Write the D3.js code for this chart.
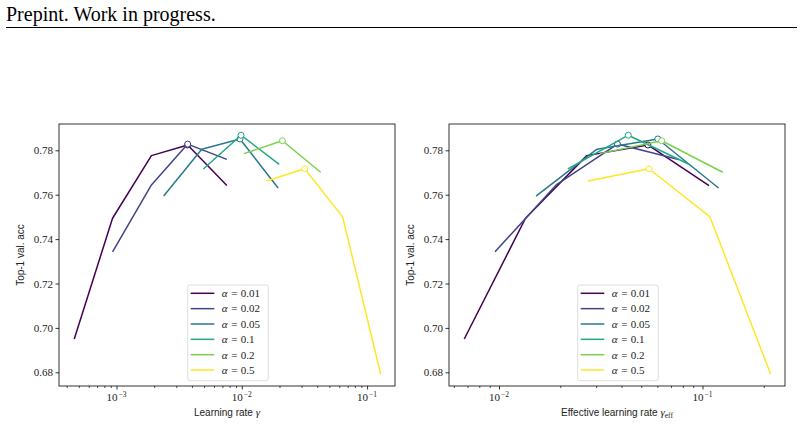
<!DOCTYPE html>
<html>
<head>
<meta charset="utf-8">
<script src="https://cdn.jsdelivr.net/npm/d3@7"></script>
<style>
  html, body { margin: 0; padding: 0; background: #fff; }
  svg { display: block; }
</style>
</head>
<body>
<div id="chart"></div>
<script>
// ---------------- DATA ----------------
const alphaLabels = ["0.01", "0.02", "0.05", "0.1", "0.2", "0.5"];

// learning rate gamma
const lrA001 = [0.00046, 0.00093, 0.0019, 0.0037, 0.0076];
const lrA002 = [0.00093, 0.0019, 0.0037, 0.0076];
const lrA005 = [0.00238, 0.00479, 0.00968, 0.0195];
const lrA01  = [0.00493, 0.00986, 0.0199];
const lrA02  = [0.0104, 0.0211, 0.0426];
const lrA05  = [0.0157, 0.0318, 0.0638, 0.1285];

// effective learning rate gamma_eff
const effA001 = [0.00675, 0.0135, 0.0270, 0.0539, 0.1077];
const effA002 = [0.00956, 0.0191, 0.0382, 0.0763];
const effA005 = [0.0152, 0.0303, 0.0603, 0.1199];
const effA01  = [0.0218, 0.0432, 0.0858];
const effA02  = [0.0313, 0.0630, 0.1257];
const effA05  = [0.0273, 0.0546, 0.1088, 0.2163];

// top-1 validation accuracy
const accA001 = [0.6950, 0.7494, 0.7776, 0.7824, 0.7641];
const accA002 = [0.7343, 0.7644, 0.7828, 0.7759];
const accA005 = [0.7594, 0.7805, 0.7851, 0.7630];
const accA01  = [0.7716, 0.7868, 0.7737];
const accA02  = [0.7785, 0.7843, 0.7701];
const accA05  = [0.7662, 0.7717, 0.7500, 0.6791];

const yTicks = [0.68, 0.70, 0.72, 0.74, 0.76, 0.78];
const leftMajor = [1e-3, 1e-2, 1e-1];
const leftMajorLabels = ["\u22123", "\u22122", "\u22121"];
const rightMajor = [1e-2, 1e-1];
const rightMajorLabels = ["\u22122", "\u22121"];

// ---------------- STYLE ----------------
const colors = ["#440154", "#414487", "#2a788e", "#22a884", "#7ad151", "#fde725"];

const lrSeries  = [lrA001, lrA002, lrA005, lrA01, lrA02, lrA05];
const effSeries = [effA001, effA002, effA005, effA01, effA02, effA05];
const accSeries = [accA001, accA002, accA005, accA01, accA02, accA05];

const W = 804, H = 425;
const svg = d3.select("#chart").append("svg")
  .attr("width", W).attr("height", H)
  .style("font-family", "'Liberation Serif', serif");

svg.append("rect").attr("width", W).attr("height", H).attr("fill", "#fff");

// header
svg.append("text")
  .attr("x", 6).attr("y", 20.5)
  .style("font-family", "'Liberation Serif', 'Times New Roman', serif")
  .style("font-size", "20px")
  .attr("fill", "#000")
  .text("Prepint. Work in progress.");
svg.append("line")
  .attr("x1", 6).attr("x2", 797).attr("y1", 27.5).attr("y2", 27.5)
  .attr("stroke", "#000").attr("stroke-width", 1);

const axTop = 124, axBottom = 386;
const y = d3.scaleLinear().domain([0.68, 0.78]).range([372.3, 150.3]);

function drawPanel(opts) {
  const { x0, x1, xDomain, xSeries, major, majorLabels, xLabelParts, yLabelX } = opts;
  const x = d3.scaleLog().domain(xDomain).range([x0, x1]);
  const g = svg.append("g");

  // minor ticks
  const lo = Math.floor(Math.log10(xDomain[0])), hi = Math.ceil(Math.log10(xDomain[1]));
  const minor = [];
  for (let e = lo; e <= hi; e++) {
    for (let m = 2; m <= 9; m++) {
      const v = m * Math.pow(10, e);
      if (v >= xDomain[0] && v <= xDomain[1]) minor.push(v);
    }
  }
  const xAxisMinor = d3.axisBottom(x).tickValues(minor).tickSize(2).tickFormat("");
  const xAxisMajor = d3.axisBottom(x).tickValues(major).tickSize(3.5).tickFormat("");
  const gm = g.append("g").attr("transform", `translate(0,${axBottom})`).call(xAxisMinor);
  const gM = g.append("g").attr("transform", `translate(0,${axBottom})`).call(xAxisMajor);
  [gm, gM].forEach(a => {
    a.select(".domain").remove();
    a.selectAll("line").attr("stroke", "#000").attr("stroke-width", 0.7);
  });
  gM.selectAll("line").attr("stroke-width", 0.8);

  // major tick labels 10^{-n}
  major.forEach((v, i) => {
    const t = g.append("text")
      .attr("x", x(v)).attr("y", 401)
      .attr("text-anchor", "middle")
      .style("font-size", "11px").attr("fill", "#222");
    t.append("tspan").text("10");
    t.append("tspan").attr("dx", 1).attr("dy", -4.5).style("font-size", "7.5px").text(majorLabels[i]);
  });

  // y axis
  const yAxis = d3.axisLeft(y).tickValues(yTicks).tickSize(3.5).tickFormat(d3.format(".2f"));
  const gy = g.append("g").attr("transform", `translate(${x0},0)`).call(yAxis);
  gy.select(".domain").remove();
  gy.selectAll("line").attr("stroke", "#000").attr("stroke-width", 0.8);
  gy.selectAll("text")
    .style("font-family", "'Liberation Serif', serif")
    .style("font-size", "11px").attr("fill", "#222").attr("x", -6);

  // clip
  const clipId = "clip" + x0;
  svg.append("clipPath").attr("id", clipId).append("rect")
    .attr("x", x0).attr("y", axTop).attr("width", x1 - x0).attr("height", axBottom - axTop);
  const plot = g.append("g").attr("clip-path", `url(#${clipId})`);

  const line = d3.line().x(d => x(d[0])).y(d => y(d[1]));
  xSeries.forEach((xs, si) => {
    const pts = xs.map((v, i) => [v, accSeries[si][i]]);
    plot.append("path").attr("d", line(pts))
      .attr("fill", "none").attr("stroke", colors[si])
      .attr("stroke-width", 1.5).attr("stroke-linejoin", "round");
    const best = pts.reduce((a, b) => (b[1] > a[1] ? b : a));
    plot.append("circle").attr("cx", x(best[0])).attr("cy", y(best[1])).attr("r", 3)
      .attr("fill", "#fff").attr("stroke", colors[si]).attr("stroke-width", 1);
  });

  // frame
  g.append("rect").attr("x", x0).attr("y", axTop).attr("width", x1 - x0).attr("height", axBottom - axTop)
    .attr("fill", "none").attr("stroke", "#000").attr("stroke-width", 0.8);

  // axis labels
  const xl = g.append("text").attr("x", (x0 + x1) / 2).attr("y", 416)
    .attr("text-anchor", "middle")
    .style("font-family", "'Liberation Sans', sans-serif").style("font-size", "10px").attr("fill", "#222");
  xl.append("tspan").text(xLabelParts[0]);
  xl.append("tspan").style("font-family", "'Liberation Serif', serif").style("font-style", "italic").style("font-size", "11px").text("\u03b3");
  if (xLabelParts[1]) {
    xl.append("tspan").attr("dy", 2).style("font-family", "'Liberation Serif', serif").style("font-size", "7.5px").text(xLabelParts[1]);
  }
  g.append("text")
    .attr("transform", `translate(${yLabelX},${(axTop + axBottom) / 2}) rotate(-90)`)
    .attr("text-anchor", "middle")
    .style("font-family", "'Liberation Sans', sans-serif").style("font-size", "10px").attr("fill", "#222")
    .text("Top-1 val. acc");

  // legend
  const lgW = 80.6, lgH = 95.7;
  const lgX = (x0 + x1) / 2 - lgW / 2 + 1, lgY = 285;
  const lg = g.append("g").attr("transform", `translate(${lgX},${lgY})`);
  lg.append("rect").attr("width", lgW).attr("height", lgH).attr("rx", 2.5)
    .attr("fill", "#fff").attr("fill-opacity", 0.8).attr("stroke", "#d6d6d6").attr("stroke-width", 0.8);
  alphaLabels.forEach((a, i) => {
    const ry = 8.3 + i * 15.35;
    lg.append("line").attr("x1", 3).attr("x2", 26.6).attr("y1", ry).attr("y2", ry)
      .attr("stroke", colors[i]).attr("stroke-width", 1.5);
    const t = lg.append("text").attr("x", 34).attr("y", ry + 3.8)
      .style("font-size", "11px").attr("fill", "#222");
    t.append("tspan").style("font-style", "italic").text("\u03b1");
    t.append("tspan").attr("dx", 1).text(" = ");
    t.append("tspan").attr("dx", 0.5).text(a);
  });
}

drawPanel({
  x0: 59, x1: 395,
  xDomain: [Math.pow(10, -3.459), Math.pow(10, -0.777)],
  xSeries: lrSeries,
  major: leftMajor, majorLabels: leftMajorLabels,
  xLabelParts: ["Learning rate "],
  yLabelX: 24
});
drawPanel({
  x0: 449, x1: 785,
  xDomain: [Math.pow(10, -2.2457), Math.pow(10, -0.5946)],
  xSeries: effSeries,
  major: rightMajor, majorLabels: rightMajorLabels,
  xLabelParts: ["Effective learning rate ", "eff"],
  yLabelX: 414
});
</script>
</body>
</html>
